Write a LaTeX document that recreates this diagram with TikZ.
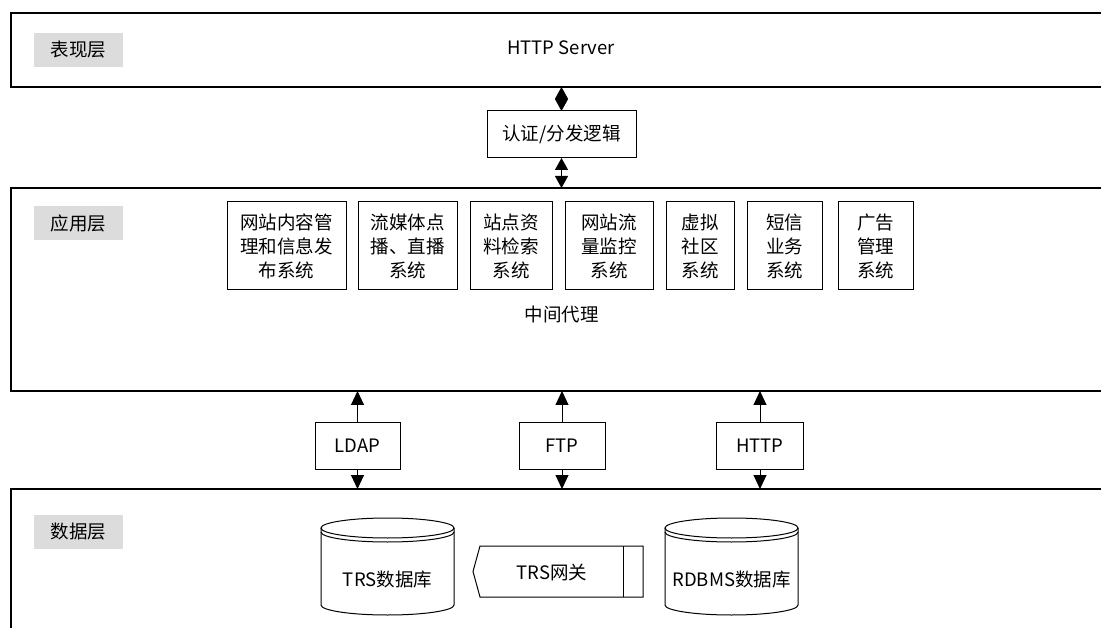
\documentclass[tikz,border=0pt]{standalone}
\usepackage{fontspec}
\setmainfont{Noto Sans CJK SC}
\usepackage{xcolor}
\usetikzlibrary{calc, positioning, arrows.meta}
\definecolor{labelgray}{HTML}{DCDCDC}

\begin{document}
\begin{tikzpicture}
  [x=1pt, y=-1pt,
   every node/.style={font=\fontsize{18.5}{24}\selectfont},
   layer/.style={draw, line width=1.2, anchor=north west, outer sep=0, minimum width=1200},
   tag/.style={fill=labelgray, minimum width=89, minimum height=34, inner sep=0},
   box/.style={draw, line width=1, align=center, inner sep=0, outer sep=0},
   sysbox/.style={box, minimum height=88},
   protobox/.style={box, minimum height=47},
   twoway/.style={line width=1, {Triangle[width=13pt,length=12pt]}-{Triangle[width=13pt,length=12pt]}},
   oneway/.style={line width=1, -{Triangle[width=13pt,length=14pt]}}]
  \fill[white, use as bounding box] (0,0) rectangle (1101,628);

  % layers %
  \node[layer, minimum height=74] (pres) at (11,13) {};
  \node[layer, minimum height=203] (app) at (11,188) {};
  \node[layer, minimum height=200] (data) at (11,489) {};
  \node[tag] (presTag) at (78.5,50) {表现层};
  \node[tag] (appTag) at (78.5,223) {应用层};
  \node[tag] (dataTag) at (78.5,532) {数据层};

  % nodes %
  \node (server) at (561,48) {HTTP Server};
  \node[box, minimum width=149, minimum height=47] (auth) at (561.5,134.5) {认证/分发逻辑};

  \node[sysbox, minimum width=119] (s1) at (286.5,246) {网站内容管\\理和信息发\\布系统};
  \node[sysbox, minimum width=99, right=12pt of s1] (s2) {流媒体点\\播、直播\\系统};
  \node[sysbox, minimum width=82, right=13pt of s2] (s3) {站点资\\料检索\\系统};
  \node[sysbox, minimum width=88, right=13pt of s3] (s4) {网站流\\量监控\\系统};
  \node[sysbox, minimum width=68, right=13pt of s4] (s5) {虚拟\\社区\\系统};
  \node[sysbox, minimum width=75, right=13pt of s5] (s6) {短信\\业务\\系统};
  \node[sysbox, minimum width=75, right=16pt of s6] (s7) {广告\\管理\\系统};
  \node (proxy) at (561.5,314) {中间代理};

  \node[protobox, minimum width=85] (ldap) at (357.5,445.5) {LDAP};
  \node[protobox, minimum width=86] (ftp) at (562,445.5) {FTP};
  \node[protobox, minimum width=87] (http) at (760,445.5) {HTTP};

  \node (trsdb) at (387.5,580) {TRS数据库};
  \node (rdb) at (731.5,580) {RDBMS数据库};
  \node (gw) at (552,572) {TRS网关};

  % shapes %
  \foreach \cx in {387.5, 731.5} {
    \draw[line width=1] (\cx-66.5,528) -- (\cx-66.5,605)
      arc[start angle=180, end angle=0, x radius=66.5, y radius=10] -- (\cx+66.5,528);
    \draw[line width=1] (\cx,528) ellipse[x radius=66.5, y radius=10];
    \draw[line width=1] (\cx-66.5,532) arc[start angle=180, end angle=0, x radius=66.5, y radius=10];
  }
  \draw[line width=1] (480,546) -- (643,546) -- (643,597) -- (480,597) -- (473,571.5) -- cycle;
  \draw[line width=1] (623,546) -- (623,597);

  % edges %
  \draw[twoway] (auth.north) -- (auth.north |- pres.south);
  \draw[twoway] (auth.south) -- (auth.south |- app.north);
  \foreach \p in {ldap, ftp, http} {
    \draw[oneway] (\p.north) -- (\p.north |- app.south);
    \draw[oneway] (\p.south) -- (\p.south |- data.north);
  }
\end{tikzpicture}
\end{document}
